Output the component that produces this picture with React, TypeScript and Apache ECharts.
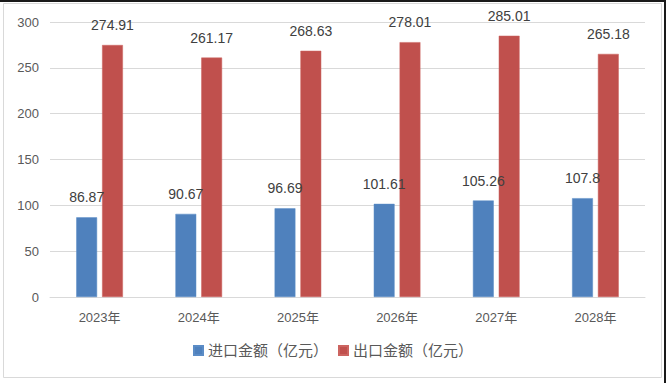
import React, { useEffect, useRef } from "react";
import * as echarts from "echarts";

const categories = ["2023年", "2024年", "2025年", "2026年", "2027年", "2028年"];
const importValues = [86.87, 90.67, 96.69, 101.61, 105.26, 107.8];
const exportValues = [274.91, 261.17, 268.63, 278.01, 285.01, 265.18];
const seriesNames = ["进口金额（亿元）", "出口金额（亿元）"];

const FONT = "'Liberation Sans', 'Noto Sans CJK SC', sans-serif";

export default function App() {
  const ref = useRef<HTMLDivElement>(null);
  useEffect(() => {
    document.body.style.margin = "0";
    const chart = echarts.init(ref.current!, null, { renderer: "svg" });
    chart.setOption({
      animation: false,
      backgroundColor: "#ffffff",
      textStyle: { fontFamily: FONT },
      graphic: [
        { type: "rect", shape: { x: 3.5, y: 3.5, width: 658, height: 374 }, style: { fill: "none", stroke: "#d9d9d9", lineWidth: 1 }, silent: true },
        { type: "line", shape: { x1: 0, y1: 1, x2: 666, y2: 1 }, style: { stroke: "#1a1a1a", lineWidth: 2 }, silent: true },
        { type: "line", shape: { x1: 665, y1: 0, x2: 665, y2: 383 }, style: { stroke: "#1a1a1a", lineWidth: 2 }, silent: true },
      ],
      grid: { left: 50, right: 21, top: 22, bottom: 86, containLabel: false },
      legend: {
        data: seriesNames,
        bottom: 20,
        left: "center",
        itemWidth: 9,
        itemHeight: 9,
        itemGap: 10,
        icon: "rect",
        textStyle: { fontSize: 15, color: "#595959", fontFamily: FONT },
      },
      xAxis: {
        type: "category",
        data: categories,
        axisLine: { lineStyle: { color: "#d9d9d9" } },
        axisTick: { show: false },
        axisLabel: { color: "#595959", fontSize: 13, margin: 14, fontFamily: FONT },
      },
      yAxis: {
        type: "value",
        min: 0,
        max: 300,
        interval: 50,
        axisLine: { show: false },
        axisTick: { show: false },
        splitLine: { lineStyle: { color: "#d9d9d9" } },
        axisLabel: { color: "#595959", fontSize: 13, margin: 11, fontFamily: FONT },
      },
      series: [
        {
          name: seriesNames[0],
          type: "bar",
          data: importValues,
          barWidth: "21%",
          barGap: "24%",
          itemStyle: { color: "#4f81bd", borderColor: "#5b8cc6", borderWidth: 0.5 },
          label: { show: true, position: "top", distance: 13, color: "#404040", fontSize: 14, fontFamily: FONT },
        },
        {
          name: seriesNames[1],
          type: "bar",
          data: exportValues,
          barWidth: "21%",
          itemStyle: { color: "#c0504d", borderColor: "#cc6460", borderWidth: 0.5 },
          label: { show: true, position: "top", distance: 13, color: "#404040", fontSize: 14, fontFamily: FONT },
        },
      ],
    });
    return () => chart.dispose();
  }, []);
  return <div ref={ref} style={{ width: 666, height: 383 }} />;
}
